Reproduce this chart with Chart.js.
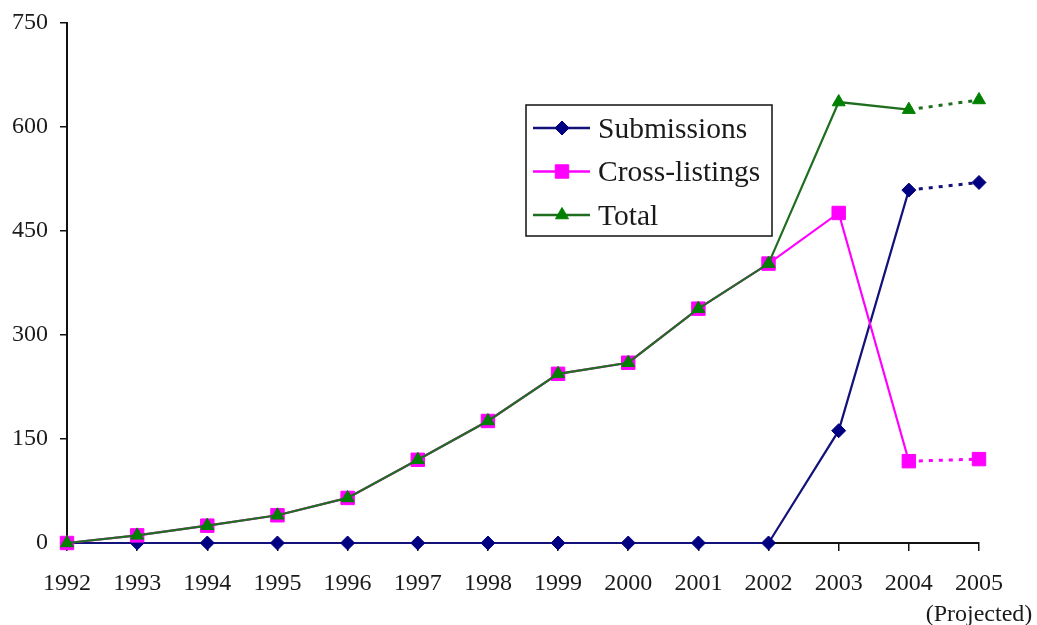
<!DOCTYPE html>
<html>
<head>
<meta charset="utf-8">
<script src="https://cdn.jsdelivr.net/npm/chart.js@4/dist/chart.umd.min.js"></script>
<style>
  html, body { margin: 0; padding: 0; background: #fff; }
  #wrap { width: 1037px; height: 625px; }
</style>
</head>
<body>
<div id="wrap"><canvas id="c" width="1037" height="625"></canvas></div>
<script>
// Yearly counts
const years = ['1992','1993','1994','1995','1996','1997','1998','1999','2000','2001','2002','2003','2004','2005'];
const submissions   = [0, 0, 0, 0, 0, 0, 0, 0, 0, 0, 0, 162, 509, 520];
const crossListings = [0, 11, 25, 40, 65, 120, 176, 244, 260, 338, 403, 476, 118, 121];
const totals        = [0, 11, 25, 40, 65, 120, 176, 244, 260, 338, 403, 636, 625, 639];
const yTicks = [0, 150, 300, 450, 600, 750];
const projectedNote = '(Projected)';
const seriesNames = ['Submissions', 'Cross-listings', 'Total'];

const FONT = "'Liberation Serif', 'Times New Roman', serif";
const TEXT = '#1a1a1a';
const lastIndex = years.length - 1;

// the final segment (last actual year -> projected year) is dashed
const projectedSegment = {
  borderDash: ctx => ctx.p1DataIndex === lastIndex ? [4, 6] : undefined,
  borderWidth: ctx => ctx.p1DataIndex === lastIndex ? 3 : undefined
};

function series(label, data, line, marker, style, radius, order) {
  return {
    label, data, order,
    borderColor: line, borderWidth: 2.2, tension: 0,
    pointStyle: style, pointRadius: radius, pointHoverRadius: radius,
    pointBackgroundColor: marker, pointBorderColor: marker, pointBorderWidth: 1,
    fill: false, clip: false,
    segment: projectedSegment
  };
}

const datasets = [
  series(seriesNames[0], submissions,   '#12127a', '#000080', 'rectRot', 7, 2),
  series(seriesNames[1], crossListings, '#ff00ff', '#ff00ff', 'rect', 9.5, 1),
  series(seriesNames[2], totals,        '#1f6e1f', '#008000', 'triangle', 7.5, 0)
];

// boxed legend drawn inside the plot
const boxedLegend = {
  id: 'boxedLegend',
  afterDraw(chart, args, opts) {
    const ctx = chart.ctx;
    ctx.save();
    ctx.fillStyle = '#fff';
    ctx.fillRect(opts.x, opts.y, opts.w, opts.h);
    ctx.strokeStyle = '#111';
    ctx.lineWidth = 1.5;
    ctx.strokeRect(opts.x, opts.y, opts.w, opts.h);
    chart.data.datasets.forEach((ds, i) => {
      const cy = opts.firstRow + i * opts.rowGap;
      ctx.strokeStyle = ds.borderColor;
      ctx.lineWidth = 2.5;
      ctx.beginPath();
      ctx.moveTo(opts.x + 7, cy);
      ctx.lineTo(opts.x + 64, cy);
      ctx.stroke();
      ctx.fillStyle = ds.pointBackgroundColor;
      ctx.strokeStyle = ds.pointBorderColor;
      ctx.lineWidth = 1;
      Chart.helpers.drawPoint(ctx, {
        pointStyle: ds.pointStyle,
        radius: ds.pointRadius,
        rotation: 0,
        borderWidth: 1
      }, opts.x + 36, cy);
      ctx.fillStyle = TEXT;
      ctx.font = opts.fontSize + 'px ' + FONT;
      ctx.textBaseline = 'middle';
      ctx.textAlign = 'left';
      ctx.fillText(ds.label, opts.x + 72, cy + 2);
    });
    ctx.restore();
  }
};

new Chart(document.getElementById('c'), {
  type: 'line',
  data: { labels: years, datasets },
  plugins: [boxedLegend],
  options: {
    responsive: false,
    animation: false,
    events: [],
    layout: { padding: { top: 23, right: 58, bottom: 0, left: 0 } },
    plugins: {
      legend: { display: false },
      tooltip: { enabled: false },
      boxedLegend: { x: 526, y: 105, w: 246, h: 131, firstRow: 128, rowGap: 43.5, fontSize: 29.5 }
    },
    scales: {
      x: {
        offset: false,
        grid: { display: true, drawOnChartArea: false, drawTicks: true, tickLength: 8, color: '#111', lineWidth: 1.5 },
        border: { display: true, color: '#111', width: 2 },
        ticks: {
          autoSkip: false, maxRotation: 0, padding: 17,
          color: TEXT,
          font: { family: FONT, size: 24, lineHeight: 1.3 },
          callback: (v, i) => i === lastIndex ? [years[i], projectedNote] : years[i]
        },
        afterFit: s => { s.height = 82; s.paddingRight = 0; s.paddingLeft = 0; }
      },
      y: {
        min: 0, max: 750,
        afterBuildTicks: s => { s.ticks = yTicks.map(v => ({ value: v })); },
        grid: { display: true, drawOnChartArea: false, drawTicks: true, tickLength: 7, color: '#111', lineWidth: 1.5 },
        border: { display: true, color: '#111', width: 2 },
        ticks: { padding: 12, color: TEXT, font: { family: FONT, size: 24 } },
        afterFit: s => { s.width = 67; s.paddingTop = 0; s.paddingBottom = 0; }
      }
    }
  }
});
</script>
</body>
</html>
